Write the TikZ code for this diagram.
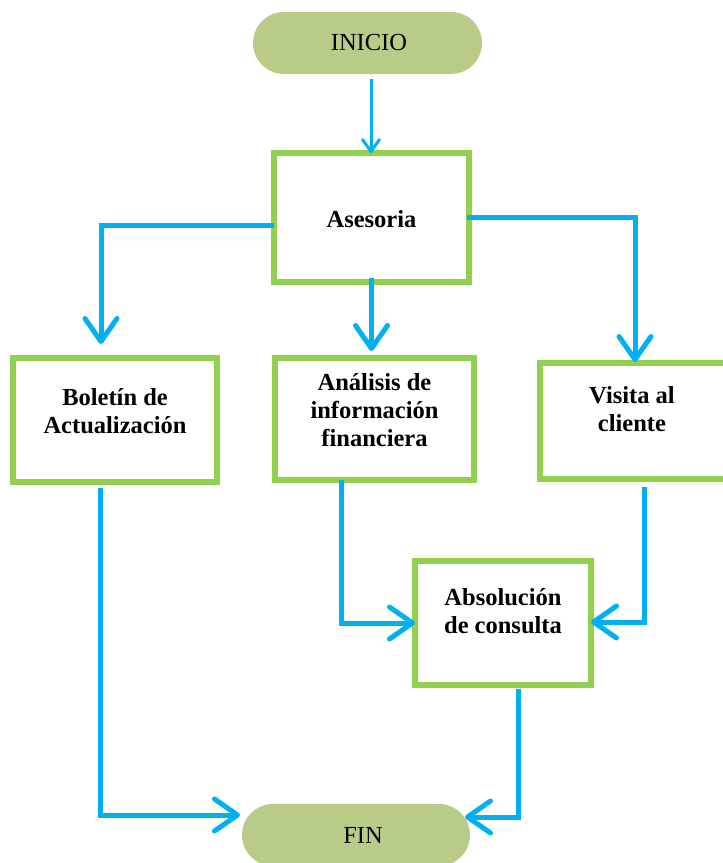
\documentclass[tikz,border=0pt]{standalone}
\usepackage{fontspec}
\setmainfont{Liberation Serif}
\usetikzlibrary{arrows.meta,calc}
\definecolor{boxgreen}{RGB}{146,208,80}
\definecolor{arrblue}{RGB}{0,176,240}
\definecolor{pillfill}{RGB}{184,203,135}
\begin{document}
\begin{tikzpicture}[x=1pt,y=-1pt,
  box/.style={draw=boxgreen,line width=6pt,fill=white,inner sep=0pt,outer sep=0pt},
  boxtext/.style={font=\fontsize{24.5}{28}\selectfont\bfseries,align=center},
  pill/.style={fill=pillfill,rounded corners=31pt,inner sep=0pt,outer sep=0pt,minimum height=62pt,font=\fontsize{24.5}{28}\selectfont},
  arr/.style={draw=arrblue,line width=5pt,-{Straight Barb[length=23pt,width=32pt,line cap=round,line join=round]}},
  thinarr/.style={draw=arrblue,line width=3pt,-{Straight Barb[length=12pt,width=17pt,line cap=round,line join=round]}}]
\useasboundingbox (0,0) rectangle (723,863);
\clip (0,0) rectangle (723,863);

\node[pill,minimum width=229pt] (inicio) at (367.5,43) {\hspace*{3pt}INICIO};
\node[pill,minimum width=228pt] (fin) at (356,835) {\hspace*{14pt}FIN};

\node[box,minimum width=195pt,minimum height=129pt,
  label={[boxtext,yshift=-2pt]center:Asesoria}] (asesoria) at (371.5,217.5) {};
\node[box,minimum width=204pt,minimum height=124pt,
  label={[boxtext,yshift=9pt]center:Boletín de\\Actualización}] (boletin) at (115,420) {};
\node[box,minimum width=199pt,minimum height=122pt,
  label={[boxtext,yshift=9pt]center:Análisis de\\información\\financiera}] (analisis) at (374.5,419) {};
\node[box,minimum width=190pt,minimum height=116pt,
  label={[boxtext,yshift=12pt,xshift=-3pt]center:Visita al\\cliente}] (visita) at (635,421) {};
\node[box,minimum width=176pt,minimum height=124pt,
  label={[boxtext,yshift=12pt]center:Absolución\\de consulta}] (absolucion) at (503,623) {};

\draw[thinarr] ($(inicio.south)+(3.5,5)$) -- ($(inicio.south |- asesoria.north)+(3.5,0)$);

\draw[arr] ($(asesoria.west)+(0,7.5)$) -| ($(boletin.north)+(-14,-14)$);
\draw[arr] ($(asesoria.south)+(0,-4)$) -- ($(asesoria.south |- analisis.north)+(0,-7)$);
\draw[arr] ($(asesoria.east)+(-2,0)$) -| ($(visita.north)+(0,-1)$);

\draw[arr] ($(analisis.south)+(-33.5,0)$) |- (absolucion.west);
\draw[arr] ($(visita.south)+(9,8)$) |- ($(absolucion.east)+(0,-1)$);

\draw[arr] ($(boletin.south)+(-15,6)$) |- ($(fin.west)+(-2,-20)$);
\draw[arr] ($(absolucion.south)+(15,4)$) |- ($(fin.east)+(-5,-18)$);
\end{tikzpicture}
\end{document}
